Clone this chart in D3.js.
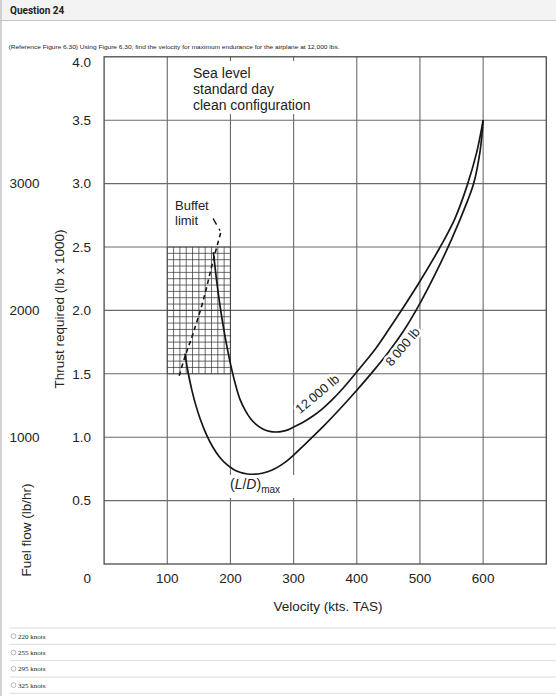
<!DOCTYPE html>
<html>
<head>
<meta charset="utf-8">
<script src="https://cdn.jsdelivr.net/npm/d3@7"></script>
<style>
  html, body { margin: 0; padding: 0; background: #fff; }
  svg { display: block; }
  text { font-family: "Liberation Sans", Arial, Helvetica, sans-serif; fill: #222; }
</style>
</head>
<body>
<svg id="chart" width="556" height="696"></svg>
<script>
// ---------------- data ----------------
const velocityTicks = [100, 200, 300, 400, 500, 600];
const velocityTickLabels = ["100", "200", "300", "400", "500", "600"];
const thrustTicks = [0.5, 1.0, 1.5, 2.0, 2.5, 3.0, 3.5, 4.0];
const thrustTickLabels = ["0.5", "1.0", "1.5", "2.0", "2.5", "3.0", "3.5", "4.0"];
const fuelFlowAt = [3.0, 2.0, 1.0];
const fuelFlowLabels = ["3000", "2000", "1000"];

// 12 000 lb curve (velocity kts, thrust lb x 1000)
const v12000 = [173, 178, 184, 190, 196, 202, 208, 215, 223, 232, 242, 252, 262, 272, 282, 292, 300, 315, 330, 345, 360, 375, 395, 410, 430, 450, 470, 500, 532, 555, 575, 590, 600];
const t12000 = [2.46, 2.24, 2.02, 1.835, 1.675, 1.535, 1.415, 1.30, 1.215, 1.145, 1.095, 1.063, 1.046, 1.041, 1.046, 1.06, 1.08, 1.118, 1.165, 1.222, 1.29, 1.368, 1.485, 1.575, 1.70, 1.845, 1.995, 2.23, 2.50, 2.72, 2.99, 3.25, 3.50];

// 8 000 lb curve
const v8000 = [128, 133, 139, 145, 152, 162, 172, 183, 194, 205, 215, 225, 235, 250, 260, 270, 280, 290, 300, 315, 330, 347, 375, 400, 425, 450, 475, 500, 525, 550, 575, 585, 595, 600];
const t8000 = [1.66, 1.51, 1.369, 1.255, 1.146, 1.021, 0.923, 0.842, 0.785, 0.746, 0.724, 0.712, 0.708, 0.716, 0.730, 0.751, 0.780, 0.815, 0.858, 0.93, 1.002, 1.085, 1.232, 1.37, 1.515, 1.67, 1.845, 2.055, 2.295, 2.56, 2.86, 3.0, 3.25, 3.5];

// buffet limit (dashed) and its leader
const buffetV = [184.5, 174, 157, 141, 128, 117.5];
const buffetT = [2.61, 2.42, 2.08, 1.82, 1.635, 1.46];
const leaderV = [172.5, 184];
const leaderT = [2.725, 2.625];

// buffet region hatch grid
const hatchV = [100, 110, 120, 130, 140, 150, 160, 170, 180, 190, 200];
const hatchT = [1.50, 1.55, 1.60, 1.65, 1.70, 1.75, 1.80, 1.85, 1.90, 1.95, 2.00, 2.05, 2.10, 2.15, 2.20, 2.25, 2.30, 2.35, 2.40, 2.45, 2.50];

const options = ["220 knots", "255 knots", "295 knots", "325 knots"];

// ---------------- drawing ----------------
const svg = d3.select("#chart");

// page chrome
svg.append("rect").attr("x", 0).attr("y", 0).attr("width", 556).attr("height", 20).attr("fill", "#f3f3f3");
svg.append("line").attr("x1", 0).attr("x2", 556).attr("y1", 20.5).attr("y2", 20.5).attr("stroke", "#c4c4c4").attr("stroke-width", 1);
svg.append("line").attr("x1", 1).attr("x2", 1).attr("y1", 0).attr("y2", 696).attr("stroke", "#c4c4c4").attr("stroke-width", 1.5);
svg.append("text").attr("x", 10).attr("y", 14)
  .style("font-family", "'Liberation Sans Narrow', 'Roboto', 'Liberation Sans', sans-serif")
  .style("font-weight", "bold").style("font-size", "10px").attr("fill", "#333")
  .text("Question 24");
svg.append("text").attr("x", 8.5).attr("y", 48.5)
  .style("font-size", "6.2px").attr("fill", "#333")
  .attr("textLength", 331).attr("lengthAdjust", "spacingAndGlyphs")
  .text("(Reference Figure 6.30) Using Figure 6.30, find the velocity for maximum endurance for the airplane at 12,000 lbs.");

const x = d3.scaleLinear().domain([0, 700]).range([104.1, 546.3]);
const y = d3.scaleLinear().domain([0, 4]).range([564, 56.8]);

const g = svg.append("g");

// grid lines
g.append("g").selectAll("line").data(velocityTicks).join("line")
  .attr("x1", d => x(d)).attr("x2", d => x(d))
  .attr("y1", y(4)).attr("y2", y(0))
  .attr("stroke", "#6a6a6a").attr("stroke-width", 1.1);
g.append("g").selectAll("line").data(thrustTicks.slice(0, 7)).join("line")
  .attr("x1", x(0)).attr("x2", x(700))
  .attr("y1", d => y(d)).attr("y2", d => y(d))
  .attr("stroke", "#6a6a6a").attr("stroke-width", 1.1);

// hatch region
const hatch = g.append("g").attr("stroke", "#3a3a3a").attr("stroke-width", 0.75);
hatch.selectAll("line.hv").data(hatchV).join("line").attr("class", "hv")
  .attr("x1", d => x(d)).attr("x2", d => x(d))
  .attr("y1", y(hatchT[hatchT.length - 1])).attr("y2", y(hatchT[0]));
hatch.selectAll("line.ht").data(hatchT).join("line").attr("class", "ht")
  .attr("x1", x(hatchV[0])).attr("x2", x(hatchV[hatchV.length - 1]))
  .attr("y1", d => y(d)).attr("y2", d => y(d));

// white boxes behind annotation text
g.append("rect").attr("x", 186).attr("y", 61).attr("width", 126).attr("height", 53).attr("fill", "#fff");
g.append("rect").attr("x", 226).attr("y", 475).attr("width", 72).attr("height", 23).attr("fill", "#fff");

// frame
g.append("rect").attr("x", x(0)).attr("y", y(4)).attr("width", x(700) - x(0)).attr("height", y(0) - y(4))
  .attr("fill", "none").attr("stroke", "#4a4a4a").attr("stroke-width", 1.3);

// curves
const line = d3.line().x(d => x(d[0])).y(d => y(d[1])).curve(d3.curveCatmullRom.alpha(0.5));
const c12 = v12000.map((v, i) => [v, t12000[i]]);
const c8 = v8000.map((v, i) => [v, t8000[i]]);
g.append("path").attr("d", line(c12)).attr("fill", "none").attr("stroke", "#161616").attr("stroke-width", 1.7);
g.append("path").attr("d", line(c8)).attr("fill", "none").attr("stroke", "#161616").attr("stroke-width", 1.7);

g.append("path").attr("d", line(buffetV.map((v, i) => [v, buffetT[i]])))
  .attr("fill", "none").attr("stroke", "#161616").attr("stroke-width", 1.6).attr("stroke-dasharray", "4.5,3.5");
g.append("path").attr("d", d3.line().x(d => x(d[0])).y(d => y(d[1]))(leaderV.map((v, i) => [v, leaderT[i]])))
  .attr("fill", "none").attr("stroke", "#161616").attr("stroke-width", 1.4).attr("stroke-dasharray", "7,5,2,4");

// annotation texts
const note = g.append("text").style("font-size", "14px").attr("fill", "#222");
["Sea level", "standard day", "clean configuration"].forEach((s, i) => {
  note.append("tspan").attr("x", 193).attr("y", 77.5 + i * 16.3).text(s);
});
const buf = g.append("text").style("font-size", "13px");
["Buffet", "limit"].forEach((s, i) => {
  buf.append("tspan").attr("x", 175).attr("y", 210 + i * 15).text(s);
});

function curveLabel(txt, v, t, ang) {
  g.append("text")
    .attr("transform", `translate(${x(v)},${y(t)}) rotate(${ang})`)
    .attr("text-anchor", "middle").attr("dominant-baseline", "central")
    .style("font-size", "13px")
    .attr("stroke", "#fff").attr("stroke-width", 5).attr("paint-order", "stroke")
    .attr("stroke-linejoin", "round")
    .text(txt);
}
curveLabel("12\u2009000 lb", 337.5, 1.341, -40);
curveLabel("8\u2009000 lb", 472.7, 1.714, -50);

const ld = g.append("text").attr("x", 230).attr("y", 489).style("font-size", "14px");
ld.append("tspan").text("(");
ld.append("tspan").style("font-style", "italic").text("L");
ld.append("tspan").text("/");
ld.append("tspan").style("font-style", "italic").text("D");
ld.append("tspan").text(")");
ld.append("tspan").style("font-size", "10px").attr("dy", 4).text("max");

// tick labels
g.append("g").selectAll("text").data(thrustTicks).join("text")
  .attr("x", 91).attr("y", d => d === 4 ? y(d) + 5 : y(d)).attr("dy", "0.36em")
  .attr("text-anchor", "end").style("font-size", "13.5px")
  .text((d, i) => thrustTickLabels[i]);
g.append("text").attr("x", 91).attr("y", 582.8).attr("text-anchor", "end").style("font-size", "13.5px").text("0");

g.append("g").selectAll("text").data(fuelFlowAt).join("text")
  .attr("x", 39.5).attr("y", d => y(d)).attr("dy", "0.36em")
  .attr("text-anchor", "end").style("font-size", "13.5px")
  .text((d, i) => fuelFlowLabels[i]);

g.append("g").selectAll("text").data(velocityTicks).join("text")
  .attr("x", d => x(d)).attr("y", 582.8)
  .attr("text-anchor", "middle").style("font-size", "13.5px")
  .text((d, i) => velocityTickLabels[i]);

// axis titles
g.append("text").attr("x", 328).attr("y", 611).attr("text-anchor", "middle").style("font-size", "13.5px")
  .text("Velocity (kts. TAS)");
g.append("text").attr("transform", "translate(64,309) rotate(-90)").attr("text-anchor", "middle").style("font-size", "13.5px")
  .text("Thrust required (lb x 1000)");
g.append("text").attr("transform", "translate(30.5,530) rotate(-90)").attr("text-anchor", "middle").style("font-size", "13.5px")
  .text("Fuel flow (lb/hr)");

// answer options
const sepY = [628, 644.3, 660.6, 677, 693.3];
svg.append("g").selectAll("line").data(sepY).join("line")
  .attr("x1", 10).attr("x2", 556).attr("y1", d => d).attr("y2", d => d)
  .attr("stroke", "#dcdcdc").attr("stroke-width", 1);
const opt = svg.append("g").selectAll("g").data(options).join("g")
  .attr("transform", (d, i) => `translate(0,${(sepY[i] + sepY[i + 1]) / 2})`);
opt.append("circle").attr("cx", 13.5).attr("cy", 0).attr("r", 2.4).attr("fill", "#fff").attr("stroke", "#999").attr("stroke-width", 0.7);
opt.append("text").attr("x", 18).attr("y", 2.4)
  .style("font-family", "'Liberation Serif', 'Times New Roman', serif").style("font-size", "7px").attr("fill", "#333")
  .text(d => d);
</script>
</body>
</html>
